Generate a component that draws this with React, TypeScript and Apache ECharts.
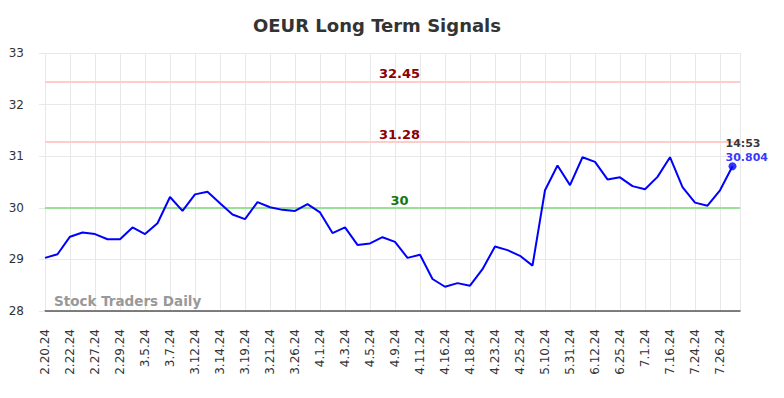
import React, { useEffect, useRef } from "react";
import * as echarts from "echarts";

const dates: string[] = [
  "2.20.24", "2.21.24", "2.22.24", "2.23.24", "2.27.24", "2.28.24", "2.29.24", "3.1.24",
  "3.5.24", "3.6.24", "3.7.24", "3.8.24", "3.12.24", "3.13.24", "3.14.24", "3.15.24",
  "3.19.24", "3.20.24", "3.21.24", "3.22.24", "3.26.24", "3.27.24", "4.1.24", "4.2.24",
  "4.3.24", "4.4.24", "4.5.24", "4.8.24", "4.9.24", "4.10.24", "4.11.24", "4.12.24",
  "4.16.24", "4.17.24", "4.18.24", "4.19.24", "4.23.24", "4.24.24", "4.25.24", "4.26.24",
  "5.10.24", "5.20.24", "5.31.24", "6.5.24", "6.12.24", "6.18.24", "6.25.24", "6.27.24",
  "7.1.24", "7.9.24", "7.16.24", "7.22.24", "7.24.24", "7.25.24", "7.26.24", "7.29.24",
];

const prices: number[] = [
  29.03, 29.1, 29.44, 29.52, 29.49, 29.39, 29.39, 29.62,
  29.49, 29.7, 30.21, 29.94, 30.26, 30.31, 30.09, 29.87,
  29.78, 30.11, 30.01, 29.96, 29.94, 30.07, 29.91, 29.51,
  29.62, 29.28, 29.31, 29.43, 29.34, 29.03, 29.09, 28.62,
  28.47, 28.54, 28.49, 28.81, 29.25, 29.18, 29.07, 28.88,
  30.34, 30.82, 30.44, 30.98, 30.89, 30.55, 30.59, 30.42,
  30.36, 30.6, 30.98, 30.4, 30.1, 30.04, 30.34, 30.804,
];

const signalLevels = [
  { value: 32.45, color: "#ffcccc", text: "#8b0000" },
  { value: 31.28, color: "#ffcccc", text: "#8b0000" },
  { value: 30, color: "#99e099", text: "#117711" },
];

const lastTime = "14:53";
const yTicks = { min: 28, max: 33, interval: 1 };

export default function App() {
  const ref = useRef<HTMLDivElement>(null);
  useEffect(() => {
    if (!ref.current) return;
    document.body.style.margin = "0";
    const chart = echarts.init(ref.current, undefined, { renderer: "svg" });
    const lineData = prices.map((p, i) => [i, p]);
    const lastIdx = prices.length - 1;
    const font = "DejaVu Sans";
    chart.setOption({
      animation: false,
      backgroundColor: "#ffffff",
      title: {
        text: "OEUR Long Term Signals",
        left: 248,
        top: 11,
        textStyle: { fontFamily: font, fontSize: 18, fontWeight: "bold", color: "#333333" },
      },
      graphic: [
        {
          type: "text",
          left: 54,
          top: 294,
          style: {
            text: "Stock Traders Daily",
            fontFamily: font,
            fontSize: 13.5,
            fontWeight: "bold",
            fill: "#999999",
          },
          z: 1,
        },
      ],
      grid: { left: 45, right: 44, top: 53, bottom: 87 },
      xAxis: {
        type: "value",
        min: 0,
        max: lastIdx + 0.6,
        interval: 2,
        axisLine: { show: true, lineStyle: { color: "#555555", width: 1.5 } },
        axisTick: { show: false },
        splitLine: { show: true, lineStyle: { color: "#e8e8e8", width: 1 } },
        axisLabel: {
          rotate: 90,
          margin: 18,
          fontFamily: font,
          fontSize: 12,
          color: "#333333",
          showMaxLabel: false,
          formatter: (v: number) => (Number.isInteger(v) && dates[v] ? dates[v] : ""),
        },
      },
      yAxis: {
        type: "value",
        min: yTicks.min,
        max: yTicks.max,
        interval: yTicks.interval,
        axisLine: { show: false },
        axisTick: { show: true, length: 6, lineStyle: { color: "#e8e8e8" } },
        splitLine: { show: true, lineStyle: { color: "#e8e8e8", width: 1 } },
        axisLabel: { margin: 21, fontFamily: font, fontSize: 12, color: "#333333" },
      },
      series: [
        {
          type: "line",
          data: lineData,
          showSymbol: false,
          lineStyle: { color: "#0000ff", width: 2 },
          z: 3,
          markLine: {
            silent: true,
            symbol: "none",
            z: 2,
            data: signalLevels.map((s) => ({
              yAxis: s.value,
              lineStyle: { color: s.color, width: 2, type: "solid" },
              label: {
                show: true,
                position: "insideMiddleTop",
                formatter: String(s.value),
                distance: 1,
                offset: [7, 0],
                fontFamily: font,
                fontSize: 13,
                fontWeight: "bold",
                color: s.text,
              },
            })),
          },
        },
        {
          type: "scatter",
          data: [[lastIdx, prices[lastIdx]]],
          symbol: "circle",
          symbolSize: 8,
          itemStyle: { color: "#0000ff" },
          z: 4,
          label: {
            show: true,
            position: [-3, -26],
            align: "left",
            formatter: () => `{t|${lastTime}}\n{v|${prices[lastIdx]}}`,
            rich: {
              t: { fontFamily: font, fontSize: 11, fontWeight: "bold", color: "#000000", lineHeight: 14 },
              v: { fontFamily: font, fontSize: 11, fontWeight: "bold", color: "#0000ff", lineHeight: 14 },
            },
          },
        },
      ],
    });
    return () => chart.dispose();
  }, []);
  return <div ref={ref} style={{ width: 784, height: 398 }} />;
}
